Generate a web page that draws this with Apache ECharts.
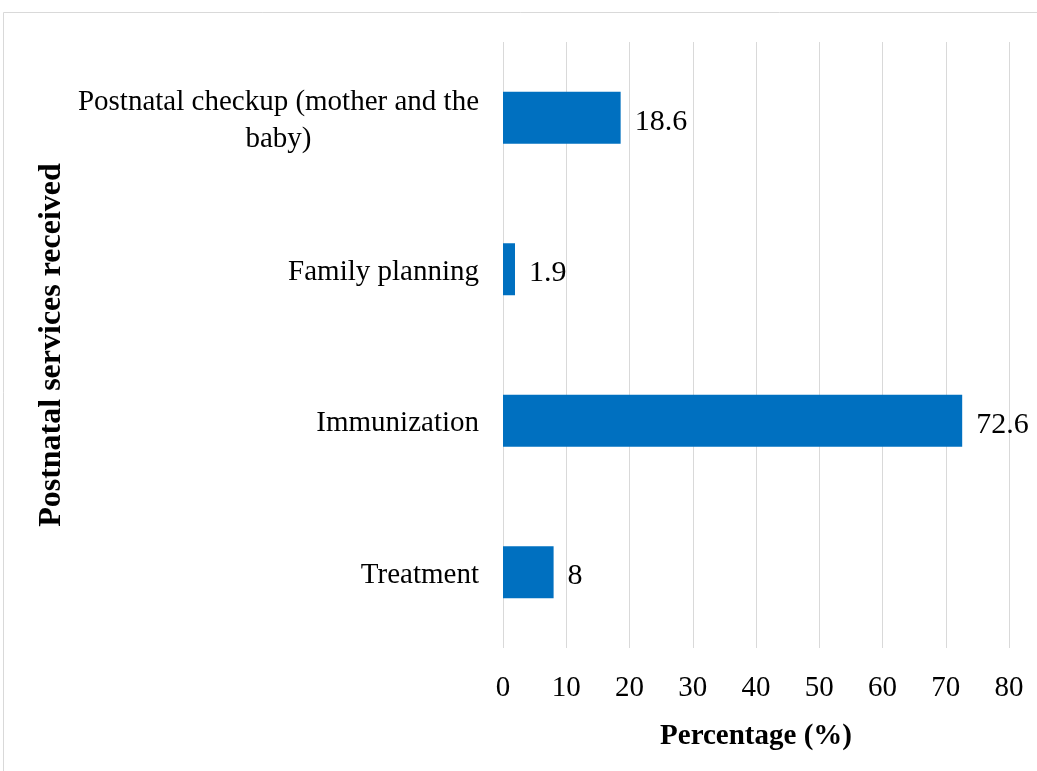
<!DOCTYPE html>
<html><head><meta charset="utf-8">
<script src="https://cdn.jsdelivr.net/npm/echarts@6/dist/echarts.min.js"></script>
<style>html,body{margin:0;padding:0;background:#fff}#c{width:1037px;height:771px}</style>
</head><body><div id="c"></div>
<script>
const categories = ["Treatment", "Immunization", "Family planning", "Postnatal checkup (mother and the\nbaby)"];
const values = [8, 72.6, 1.9, 18.6];
const xTicks = [0, 10, 20, 30, 40, 50, 60, 70, 80];
const xTitle = "Percentage (%)";
const yTitle = "Postnatal services received";

const chart = echarts.init(document.getElementById('c'), null, {renderer: 'canvas'});
const serif = '"Liberation Serif", "Times New Roman", serif';
chart.setOption({
  animation: false,
  backgroundColor: '#fff',
  graphic: [{
    type: 'rect', shape: {x: 3.5, y: 12.5, width: 1100, height: 800},
    style: {fill: 'none', stroke: '#d9d9d9', lineWidth: 1}, silent: true
  }],
  grid: {left: 503, right: 28, top: 42, bottom: 123},
  xAxis: {
    type: 'value', min: xTicks[0], max: xTicks[xTicks.length - 1], interval: 10,
    axisLine: {show: false}, axisTick: {show: false},
    splitLine: {lineStyle: {color: '#d9d9d9', width: 1}},
    axisLabel: {fontFamily: serif, fontSize: 29, color: '#000', margin: 26},
    name: xTitle, nameLocation: 'middle', nameGap: 74,
    nameTextStyle: {fontFamily: serif, fontSize: 29, fontWeight: 'bold', color: '#000'}
  },
  yAxis: {
    type: 'category', data: categories,
    axisLine: {show: false}, axisTick: {show: false},
    axisLabel: {
      fontFamily: serif, fontSize: 29, color: '#000', margin: 24, padding: [6, 0, 0, 0],
      formatter: v => '{a|' + v.split('\n').join('}\n{a|') + '}',
      rich: {a: {fontFamily: serif, fontSize: 29, color: '#000', align: 'center', lineHeight: 37}}
    },
    name: yTitle, nameLocation: 'middle', nameGap: 435, nameRotate: 90,
    nameTextStyle: {fontFamily: serif, fontSize: 32, fontWeight: 'bold', color: '#000'}
  },
  series: [{
    type: 'bar', data: values, barWidth: 52,
    itemStyle: {color: '#0070C0'},
    label: {show: true, position: 'right', distance: 14, offset: [0, 4], fontFamily: serif, fontSize: 30, color: '#000'}
  }]
});
</script></body></html>
